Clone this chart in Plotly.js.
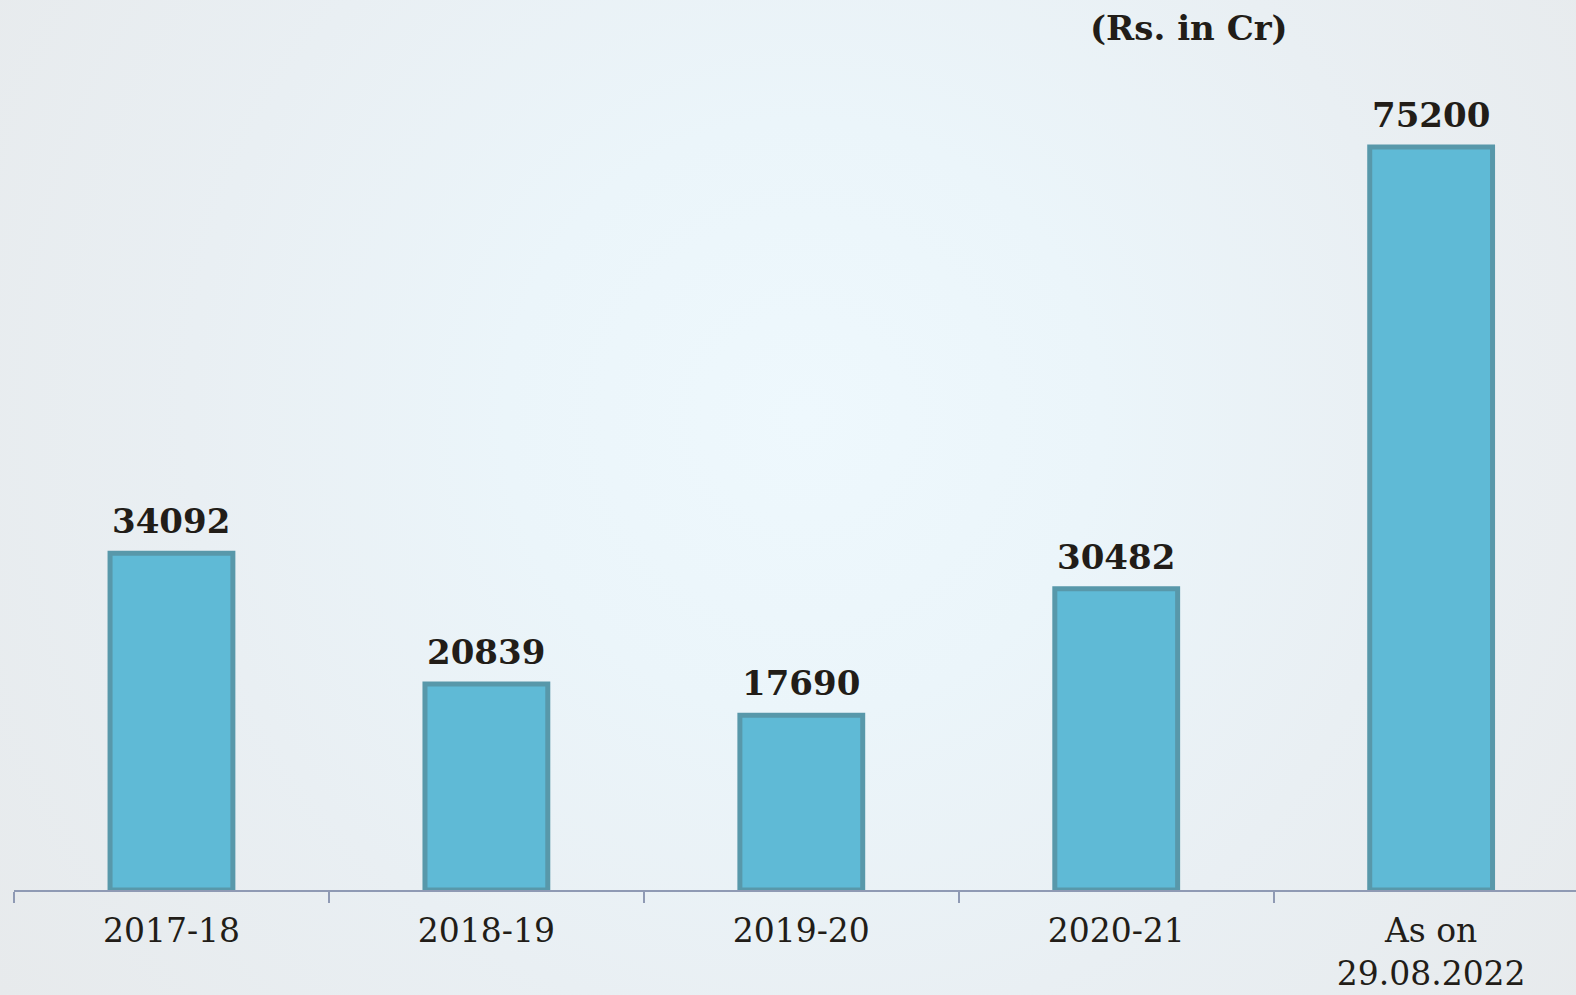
<!DOCTYPE html>
<html>
<head>
<meta charset="utf-8">
<script src="https://cdn.plot.ly/plotly-3.0.1.min.js"></script>
<style>
  html, body { margin: 0; padding: 0; }
  body {
    width: 1576px;
    height: 995px;
    overflow: hidden;
    background: radial-gradient(circle at 51% 42%, #eef8fd 0%, #ebf5fa 30%, #e9eff3 62%, #e7eaec 100%);
  }
  #chart { width: 1576px; height: 995px; }
</style>
</head>
<body>
<div id="chart"></div>
<script>
// Amounts in Rs. crore
const periods = ["2017-18", "2018-19", "2019-20", "2020-21", "As on<br>29.08.2022"];
const amounts = [34092, 20839, 17690, 30482, 75200];
const unitNote = "(Rs. in Cr)";

const TEXT_COLOR = "#221d18";
const AXIS_COLOR = "#8f9ab4";

const barTrace = {
  type: "bar",
  x: periods,
  y: amounts,
  width: 0.39,
  marker: {
    color: "#5fbad6",
    line: { color: "#5898aa", width: 5 },
  },
  hoverinfo: "x+y",
};

// value labels sit a little above each bar
const valueLabels = periods.map((p, i) => ({
  x: p,
  y: amounts[i],
  text: `<b>${amounts[i]}</b>`,
  showarrow: false,
  yanchor: "bottom",
  yshift: 10,
  font: { family: "DejaVu Serif", size: 34, color: TEXT_COLOR },
}));

const layout = {
  width: 1576,
  height: 995,
  paper_bgcolor: "rgba(0,0,0,0)",
  plot_bgcolor: "rgba(0,0,0,0)",
  margin: { l: 14, r: 0, t: 0, b: 105 },
  showlegend: false,
  xaxis: {
    type: "category",
    range: [-0.5, 4.46],
    showline: true,
    linecolor: AXIS_COLOR,
    linewidth: 2,
    ticks: "outside",
    tickson: "boundaries",
    ticklen: 11,
    tickwidth: 2,
    tickcolor: AXIS_COLOR,
    ticklabelstandoff: 10,
    showgrid: false,
    tickfont: { family: "DejaVu Serif", size: 33, color: TEXT_COLOR },
    fixedrange: true,
  },
  yaxis: {
    range: [0, 90080],
    visible: false,
    showgrid: false,
    zeroline: false,
    fixedrange: true,
  },
  annotations: [
    ...valueLabels,
    {
      xref: "paper",
      yref: "paper",
      x: 0.752,
      y: 1.0,
      yshift: -6,
      xanchor: "center",
      yanchor: "top",
      text: `<b>${unitNote}</b>`,
      showarrow: false,
      font: { family: "DejaVu Serif", size: 34, color: TEXT_COLOR },
    },
  ],
};

Plotly.newPlot("chart", [barTrace], layout, { displayModeBar: false, staticPlot: true });
</script>
</body>
</html>
